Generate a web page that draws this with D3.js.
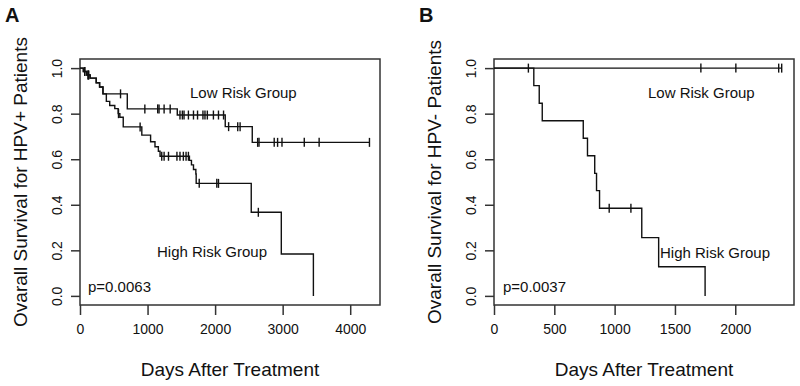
<!DOCTYPE html>
<html>
<head>
<meta charset="UTF-8">
<script src="https://cdn.jsdelivr.net/npm/d3@7"></script>
<style>
  body { margin: 0; background: #fff; }
  text { font-family: Arial, "Liberation Sans", sans-serif; fill: #111; }
</style>
</head>
<body>
<div id="chart"></div>
<script>
// Panel A : HPV+ patients
var lowA_times = [0, 50, 100, 150, 240, 290, 340, 700, 1440, 2150, 2550];
var lowA_surv  = [1, 0.985, 0.97, 0.956, 0.936, 0.917, 0.887, 0.821, 0.794, 0.743, 0.674];
var lowA_cens  = [70, 120, 130, 600, 960, 1150, 1170, 1245, 1335, 1480, 1515, 1540, 1605, 1680, 1740,
                  1820, 1850, 1885, 1975, 2050, 2125, 2200, 2335, 2370, 2630, 2650, 2875, 2925, 2990,
                  3320, 3540, 4285];

var highA_times = [0, 50, 100, 150, 240, 290, 340, 390, 440, 515, 565, 590, 640, 915, 1045, 1110, 1160,
                   1185, 1620, 1650, 1680, 1715, 1720, 2535, 2980, 3455];
var highA_surv  = [1, 0.985, 0.97, 0.956, 0.936, 0.917, 0.887, 0.854, 0.836, 0.822, 0.80, 0.784, 0.742,
                   0.706, 0.677, 0.655, 0.635, 0.613, 0.595, 0.575, 0.555, 0.535, 0.494, 0.367, 0.184, 0];
var highA_cens  = [70, 120, 570, 890, 1210, 1245, 1310, 1435, 1480, 1530, 1570, 1605, 1765, 2025, 2050, 2640];

// Panel B : HPV- patients
var lowB_times = [0];
var lowB_surv  = [1];
var lowB_cens  = [285, 1715, 2005, 2360, 2385];

var highB_times = [0, 330, 375, 400, 740, 775, 835, 850, 875, 1225, 1365, 1750];
var highB_surv  = [1, 0.923, 0.846, 0.769, 0.692, 0.615, 0.538, 0.462, 0.385, 0.256, 0.128, 0];
var highB_cens  = [955, 1135];

var yTicks = [0, 0.2, 0.4, 0.6, 0.8, 1.0];
var xTicksA = [0, 1000, 2000, 3000, 4000];
var xTicksB = [0, 500, 1000, 1500, 2000];

var svg = d3.select("#chart").append("svg")
  .attr("width", 800).attr("height", 386);

function panel(opt) {
  var x = d3.scaleLinear().domain([0, opt.xmax]).range([opt.left, opt.left + 300]);
  var y = d3.scaleLinear().domain([-0.04, 1.04]).range([305, 59]);
  var g = svg.append("g");

  // box
  g.append("rect")
    .attr("x", opt.left).attr("y", 59).attr("width", 300).attr("height", 246)
    .attr("fill", "none").attr("stroke", "#333").attr("stroke-width", 1.5);

  // axes
  var xa = g.append("g").attr("transform", "translate(0,305)")
    .call(d3.axisBottom(x).tickValues(opt.xticks).tickSize(10).tickPadding(9).tickFormat(d3.format("d")));
  var ya = g.append("g").attr("transform", "translate(" + opt.left + ",0)")
    .call(d3.axisLeft(y).tickValues(yTicks).tickSize(9).tickFormat(d3.format(".1f")));
  [xa, ya].forEach(function(a) {
    a.select(".domain").remove();
    a.selectAll("line").attr("stroke", "#333").attr("stroke-width", 1.5);
    a.selectAll("text").style("font-size", "14px").attr("fill", "#111");
  });
  // R style: y tick labels run parallel to the axis
  ya.selectAll("text")
    .attr("transform", "translate(-18,0) rotate(-90)")
    .attr("x", 0).attr("y", 0).attr("dy", 0).attr("text-anchor", "middle");

  // curves
  var line = d3.line().curve(d3.curveStepAfter)
    .x(function(d) { return x(d[0]); }).y(function(d) { return y(d[1]); });

  opt.groups.forEach(function(s) {
    var pts = s.times.map(function(t, i) { return [t, s.surv[i]]; });
    var end = d3.max(s.cens.concat(s.times));
    if (end > s.times[s.times.length - 1]) pts.push([end, s.surv[s.surv.length - 1]]);
    g.append("path").attr("d", line(pts))
      .attr("fill", "none").attr("stroke", "#111").attr("stroke-width", 1.4);
    g.selectAll(null).data(s.cens).enter().append("line")
      .attr("x1", function(d) { return x(d); }).attr("x2", function(d) { return x(d); })
      .attr("y1", function(d) { return y(s.surv[d3.bisectRight(s.times, d) - 1]) - 4.5; })
      .attr("y2", function(d) { return y(s.surv[d3.bisectRight(s.times, d) - 1]) + 4.5; })
      .attr("stroke", "#111").attr("stroke-width", 1.4);
  });

  // annotations
  opt.notes.forEach(function(n) {
    g.append("text").attr("x", n[1]).attr("y", n[2]).style("font-size", "15px").text(n[0]);
  });

  g.append("text").attr("x", opt.left + 150).attr("y", 376).attr("text-anchor", "middle")
    .style("font-size", "19px").text("Days After Treatment");
  g.append("text")
    .attr("transform", "translate(" + (opt.left - 53) + ",182) rotate(-90)")
    .attr("text-anchor", "middle").style("font-size", "19px").text(opt.ylabel);
  g.append("text").attr("x", opt.left - 75).attr("y", 22)
    .style("font-size", "20px").style("font-weight", "bold").text(opt.tag);
}

panel({
  left: 80, xmax: 4441, xticks: xTicksA, tag: "A",
  ylabel: "Ovarall Survival for HPV+ Patients",
  groups: [
    { times: lowA_times, surv: lowA_surv, cens: lowA_cens },
    { times: highA_times, surv: highA_surv, cens: highA_cens }
  ],
  notes: [["Low Risk Group", 190, 98], ["High Risk Group", 157, 257], ["p=0.0063", 88, 292]]
});

panel({
  left: 494, xmax: 2487, xticks: xTicksB, tag: "B",
  ylabel: "Ovarall Survival for HPV- Patients",
  groups: [
    { times: lowB_times, surv: lowB_surv, cens: lowB_cens },
    { times: highB_times, surv: highB_surv, cens: highB_cens }
  ],
  notes: [["Low Risk Group", 648, 98], ["High Risk Group", 660, 258], ["p=0.0037", 503, 292]]
});
</script>
</body>
</html>
